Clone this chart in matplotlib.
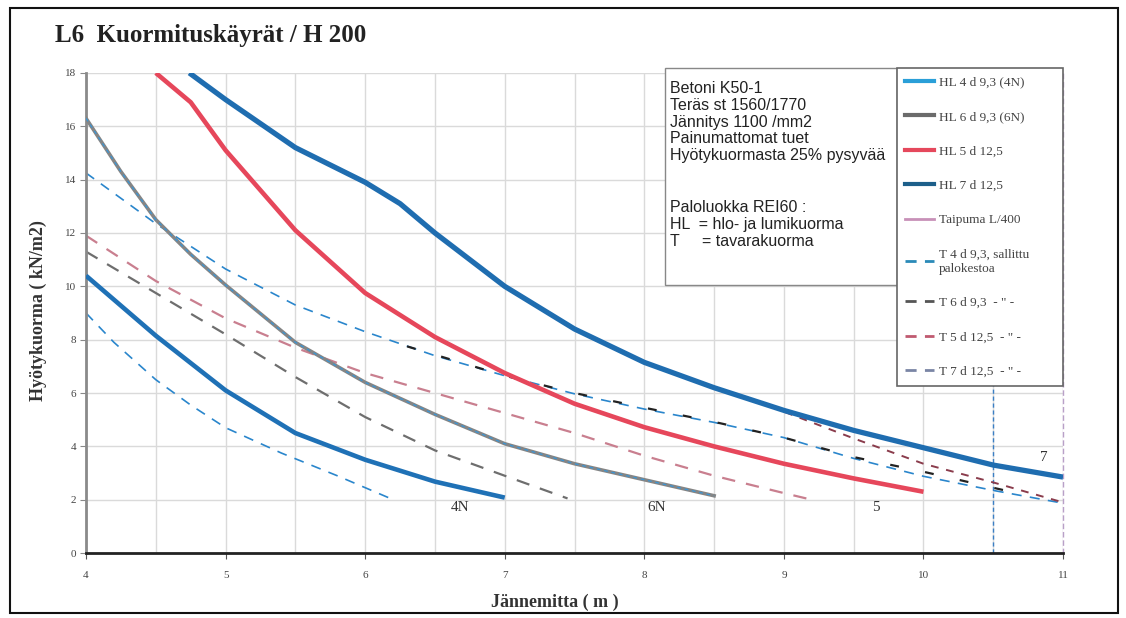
import matplotlib
matplotlib.use('Agg')
import matplotlib.pyplot as plt
from matplotlib.lines import Line2D
from matplotlib.patches import Rectangle
import numpy as np

# HL curves (hlo- ja lumikuorma)
hl4_x = [4, 4.5, 5, 5.5, 6, 6.5, 7]
hl4_y = [10.4, 8.15, 6.1, 4.5, 3.5, 2.68, 2.08]
hl6_x = [4, 4.25, 4.5, 4.75, 5, 5.5, 6, 6.5, 7, 7.5, 8, 8.5]
hl6_y = [16.3, 14.3, 12.5, 11.2, 10.05, 7.9, 6.4, 5.2, 4.1, 3.35, 2.75, 2.15]
hl5_x = [4.5, 4.75, 5, 5.5, 6, 6.5, 7, 7.5, 8, 8.5, 9, 9.5, 10]
hl5_y = [18, 16.9, 15.1, 12.1, 9.75, 8.1, 6.75, 5.6, 4.72, 4.0, 3.35, 2.8, 2.3]
hl7_x = [4.74, 5, 5.5, 6, 6.25, 6.5, 7, 7.5, 8, 8.5, 9, 9.5, 10, 10.5, 11]
hl7_y = [18, 17.0, 15.2, 13.9, 13.1, 12.0, 10.0, 8.4, 7.15, 6.2, 5.35, 4.6, 3.95, 3.3, 2.85]

# T curves (tavarakuorma, palo)
pal_x = [4, 4.5, 5, 5.5, 6, 6.5, 7, 7.5, 8, 8.5, 9, 9.5, 10, 10.5, 11]
pal_y = [14.25, 12.35, 10.65, 9.3, 8.3, 7.4, 6.65, 5.97, 5.4, 4.9, 4.33, 3.55, 2.88, 2.35, 1.87]
t4_x = [4, 4.2, 4.5, 4.75, 5, 5.4, 5.8, 6.18]
t4_y = [9.0, 7.9, 6.5, 5.55, 4.7, 3.75, 2.9, 2.05]
t6_x = [4, 4.5, 5, 5.5, 6, 6.5, 7, 7.45]
t6_y = [11.3, 9.75, 8.2, 6.6, 5.1, 3.85, 2.9, 2.05]
t6b_x = [6.3, 7, 7.5, 8, 8.5, 9, 9.5, 10, 10.5, 10.75]
t6b_y = [7.75, 6.65, 6.0, 5.45, 4.92, 4.33, 3.6, 3.05, 2.45, 2.15]
t5_x = [4, 4.5, 5, 5.5, 6, 6.5, 7, 7.5, 8, 8.5, 9, 9.2]
t5_y = [11.9, 10.2, 8.8, 7.7, 6.75, 6.0, 5.25, 4.5, 3.65, 2.9, 2.25, 2.0]
t7_x = [8.8, 9, 9.5, 10, 10.5, 11]
t7_y = [5.7, 5.3, 4.3, 3.35, 2.65, 1.9]

raja_x = 10.5

end_labels = ['4N', '6N', '5', '7']
end_lx = [6.68, 8.09, 9.66, 10.86]
end_ly = [1.72, 1.72, 1.72, 3.6]

legend_labels = ['HL 4 d 9,3 (4N)', 'HL 6 d 9,3 (6N)', 'HL 5 d 12,5', 'HL 7 d 12,5',
                 'Taipuma L/400', 'T 4 d 9,3, sallittu\npalokestoa',
                 'T 6 d 9,3  - " -', 'T 5 d 12,5  - " -', 'T 7 d 12,5  - " -']

info1 = ('Betoni K50-1\nTeräs st 1560/1770\nJännitys 1100 /mm2\n'
         'Painumattomat tuet\nHyötykuormasta 25% pysyvää')
info2 = 'Paloluokka REI60 :\nHL  = hlo- ja lumikuorma\nT     = tavarakuorma'

serif = 'Liberation Serif'
sans = 'Liberation Sans'

fig = plt.figure(figsize=(11.26, 6.18), dpi=100)
ax = fig.add_axes([0.0764, 0.105, 0.8677, 0.777])

dash = (0, (6, 5))
ax.axvline(raja_x, color='#3b7fc4', lw=1, ls=(0, (3, 2)), zorder=1.5)
ax.plot(t4_x, t4_y, color='#2a86cc', lw=1.2, ls=dash, zorder=2)
ax.plot(pal_x, pal_y, color='#2a86cc', lw=1.2, ls=dash, zorder=2)
ax.plot(t6_x, t6_y, color='#6e6e6e', lw=1.6, ls=dash, zorder=2)
ax.plot(t5_x, t5_y, color='#c97f8f', lw=1.6, ls=dash, zorder=2)
ax.plot(t6b_x, t6b_y, color='#222222', lw=1.6, ls=(0, (4, 12)), zorder=2.2)
ax.plot(t7_x, t7_y, color='#8a3c4c', lw=1.4, ls=(0, (4, 4)), zorder=2.2)

ax.plot(hl6_x, hl6_y, color='#858585', lw=2.6, zorder=3)
ax.plot(hl6_x, hl6_y, color='#3a95d5', lw=0.9, ls=(0, (3, 3)), zorder=3.1)
ax.plot(hl4_x, hl4_y, color='#1f71b6', lw=3.3, solid_capstyle='butt', zorder=3)
ax.plot(hl5_x, hl5_y, color='#e6475b', lw=3.3, solid_capstyle='butt', zorder=3)
ax.plot(hl7_x, hl7_y, color='#1f6db0', lw=3.8, solid_capstyle='butt', zorder=3)

for lab, lx, ly in zip(end_labels, end_lx, end_ly):
    ax.text(lx, ly, lab, fontsize=11, family=serif, color='#333333',
            ha='center', va='center', zorder=4)

ax.set_xlim(4, 11)
ax.set_ylim(0, 18)
ax.set_xticks(np.arange(4, 11.01, 1))
ax.set_xticks(np.arange(4, 11.01, 0.5), minor=True)
ax.set_yticks(np.arange(0, 18.01, 2))
ax.grid(which='both', axis='x', color='#dadada', lw=1, zorder=0)
ax.grid(which='major', axis='y', color='#dadada', lw=1, zorder=0)
ax.set_axisbelow(True)
ax.tick_params(which='minor', length=0)
ax.tick_params(axis='x', which='major', length=4, pad=9, labelsize=8,
               labelcolor='#444444', color='#555555')
ax.tick_params(axis='y', which='major', length=4, pad=3, labelsize=8,
               labelcolor='#444444', color='#888888')
for lbl in ax.get_xticklabels() + ax.get_yticklabels():
    lbl.set_family(serif)

ax.spines['top'].set_visible(False)
ax.spines['right'].set_color('#b9a0c8')
ax.spines['right'].set_linestyle((0, (3, 3)))
ax.spines['right'].set_linewidth(1)
ax.spines['left'].set_color('#8a8a8a')
ax.spines['left'].set_linewidth(2)
ax.spines['bottom'].set_color('#222222')
ax.spines['bottom'].set_linewidth(2)

# info box
ax.add_patch(Rectangle((0.593, 0.558), 0.237, 0.452, transform=ax.transAxes,
                       fc='white', ec='#888888', lw=1, clip_on=False, zorder=5))
ax.text(0.598, 0.983, info1, transform=ax.transAxes, fontsize=11.5, family=sans,
        color='#222222', va='top', ha='left', linespacing=1.15, zorder=6)
ax.text(0.598, 0.735, info2, transform=ax.transAxes, fontsize=11.5, family=sans,
        color='#222222', va='top', ha='left', linespacing=1.15, zorder=6)

# legend
handles = [
    Line2D([], [], color='#2a9fd8', lw=3),
    Line2D([], [], color='#6b6b6b', lw=3),
    Line2D([], [], color='#e5485c', lw=3),
    Line2D([], [], color='#1d5f8a', lw=3),
    Line2D([], [], color='#c890b8', lw=2),
    Line2D([], [], color='#2a8ab8', lw=2, ls=(0, (4, 3))),
    Line2D([], [], color='#555555', lw=2, ls=(0, (4, 3))),
    Line2D([], [], color='#c05a70', lw=2, ls=(0, (4, 3))),
    Line2D([], [], color='#7a85a5', lw=2, ls=(0, (4, 3))),
]
leg = ax.legend(handles, legend_labels, loc='upper left',
                bbox_to_anchor=(0.830, 0.323, 0.170, 0.687), mode='expand',
                prop={'family': serif, 'size': 9.5}, labelcolor='#444444',
                handlelength=2.2, handletextpad=0.4, labelspacing=1.69,
                borderpad=0.6, borderaxespad=0, fancybox=False,
                framealpha=1, edgecolor='#666666')
leg.get_frame().set_linewidth(1.2)
leg.set_zorder(10)

fig.text(0.049, 0.942, 'L6  Kuormituskäyrät / H 200', fontsize=18,
         family=serif, weight='bold', color='#222222', va='center', ha='left')
fig.text(0.493, 0.026, 'Jännemitta ( m )', fontsize=13, family=serif,
         weight='bold', color='#333333', ha='center', va='center')
fig.text(0.034, 0.498, 'Hyötykuorma ( kN/m2)', fontsize=13, family=serif,
         weight='bold', color='#333333', ha='center', va='center', rotation=90)

fig.patches.append(Rectangle((0.009, 0.008), 0.984, 0.979, transform=fig.transFigure,
                             fill=False, ec='#111111', lw=1.5))

fig.savefig('out.png', dpi=100)
